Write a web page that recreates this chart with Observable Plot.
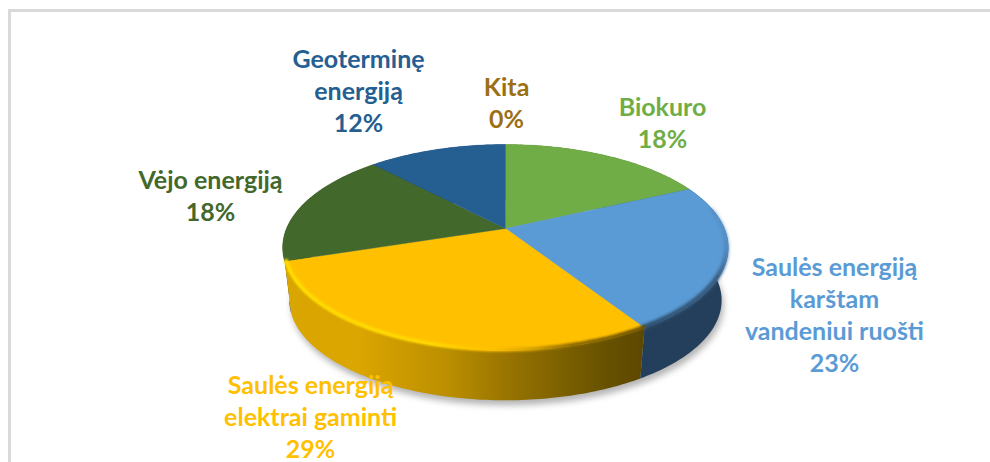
<!DOCTYPE html>
<html>
<head>
<meta charset="utf-8">
<script src="https://cdn.jsdelivr.net/npm/d3@7"></script>
<script src="https://cdn.jsdelivr.net/npm/@observablehq/plot@0.6"></script>
<style>
html,body{margin:0;padding:0;background:#fff;overflow:hidden}
#wrap{position:relative;width:990px;height:462px;overflow:hidden}
#frame{position:absolute;left:8px;top:9px;right:-10px;bottom:-10px;border-left:3px solid #d9d9d9;border-top:3px solid #d9d9d9;pointer-events:none}
</style>
</head>
<body>
<div id="wrap"><div id="frame"></div></div>
<script>
// Data
const categories = ["Biokuro", "Saulės energiją\nkarštam\nvandeniui ruošti", "Saulės energiją\nelektrai gaminti", "Vėjo energiją", "Geoterminę\nenergiją", "Kita"];
const values = [18, 23, 29, 18, 12, 0];
const topColors = ["#70AD47", "#5B9BD5", "#FFC000", "#43682B", "#255E91", "#9C6F14"];
const wallColors = ["#43682B", "#243F5B", "url(#wallGold)", "#2A4119", "#163A5A", "#5E4300"];

// Layout of the labels, in the chart's x/y units (not data)
const labelX = [0.717, 1.502, -0.89, -1.347, -0.671, 0.005];
const labelY = [1.075, -0.859, -1.885, 0.342, 1.392, 1.276];

// Perspective of the tilted disc
const tilt = 0.1845, lowerScale = 0.97, depth = 0.537;
const project = (a, s = 1, drop = 0) => {
  const u = Math.sin(a), v = Math.cos(a), d = 1 + tilt * v;
  return {x: s * u / d, y: s * v / d - drop};
};

const total = d3.sum(values);
const ends = Array.from(d3.cumsum(values), c => c / total * 2 * Math.PI);
const slices = categories.map((name, i) => ({
  name, value: values[i], top: topColors[i], wall: wallColors[i],
  a0: i ? ends[i - 1] : 0, a1: ends[i]
}));
const arc = (a0, a1, s, drop) => {
  const n = Math.max(1, Math.ceil((a1 - a0) / (Math.PI / 180)));
  return d3.range(n + 1).map(k => project(a0 + (a1 - a0) * k / n, s, drop));
};
const visible = slices.filter(s => s.value > 0);
const topPts = visible.flatMap(s => [{x: 0, y: 0}, ...arc(s.a0, s.a1, 1, 0)].map(p => ({...p, name: s.name, color: s.top})));
const wallMarks = visible.slice().reverse().map(s => Plot.line(
  [...arc(s.a0, s.a1, 1, 0), ...arc(s.a0, s.a1, lowerScale, depth).reverse()],
  {x: "x", y: "y", fill: s.wall, stroke: "none"}
));
const gold = slices[2], blue = slices[1];
const shadow = arc(0, 2 * Math.PI, lowerScale, depth);

const labels = slices.map((s, i) => ({text: `${s.name}\n${s.value}%`, x: labelX[i], y: labelY[i], color: s.top}));

const plot = Plot.plot({
  width: 990, height: 462,
  margin: 0,
  style: {background: "transparent"},
  x: {axis: null, domain: [-1, 1], range: [286, 724]},
  y: {axis: null, domain: [-1, 1], range: [327.5, 128.5]},
  marks: [
    Plot.line(shadow, {x: "x", y: "y", fill: "#b5b5b5", stroke: "none", dx: 2, dy: 5, imageFilter: "blur(3px)"}),
    ...wallMarks,
    Plot.line(topPts, {x: "x", y: "y", z: "name", fill: {value: "color", scale: null}, stroke: {value: "color", scale: null}, strokeWidth: 0.4}),
    // soft bevel where the top surface meets the wall
    Plot.line(arc(blue.a0 + 0.25, blue.a1, 0.993, 0), {x: "x", y: "y", stroke: "url(#bevelBlue)", strokeWidth: 5, imageFilter: "blur(1.6px)"}),
    Plot.line(arc(gold.a0, gold.a1, 0.993, 0), {x: "x", y: "y", stroke: "url(#bevelGold)", strokeWidth: 4, imageFilter: "blur(1.3px)"}),
    Plot.text(labels, {
      x: "x", y: "y", text: "text", fill: {value: "color", scale: null},
      fontFamily: "Lato", fontWeight: "bold", fontSize: 25, lineHeight: 1.28, lineAnchor: "middle"
    })
  ]
});

const defs = d3.create("svg:defs");
defs.html(`
<linearGradient id="wallGold" x1="1" y1="0" x2="0" y2="0">
  <stop offset="0" stop-color="#5E4700"/><stop offset="0.1" stop-color="#665000"/>
  <stop offset="0.36" stop-color="#947100"/><stop offset="0.55" stop-color="#BC8F00"/>
  <stop offset="0.8" stop-color="#DCA600"/><stop offset="1" stop-color="#D9A500"/>
</linearGradient>
<linearGradient id="bevelGold" x1="1" y1="0" x2="0" y2="0">
  <stop offset="0" stop-color="#6B5200"/><stop offset="0.2" stop-color="#8A6900"/>
  <stop offset="0.32" stop-color="#D8A400"/><stop offset="0.42" stop-color="#FFC000"/>
  <stop offset="0.6" stop-color="#FFD800"/><stop offset="1" stop-color="#FFDC00"/>
</linearGradient>
<linearGradient id="bevelBlue" x1="1" y1="0" x2="0" y2="1">
  <stop offset="0" stop-color="#5B9BD5" stop-opacity="0.3"/><stop offset="0.35" stop-color="#36597C"/>
  <stop offset="1" stop-color="#2C4D6C"/>
</linearGradient>`);
plot.prepend(defs.node());
document.getElementById("wrap").prepend(plot);
</script>
</body>
</html>
